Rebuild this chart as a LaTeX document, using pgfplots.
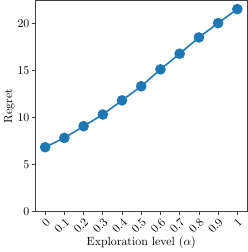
\documentclass[border=0pt]{standalone}
\usepackage{pgfplots}
\pgfplotsset{compat=1.18}
\definecolor{mplblue}{HTML}{1F77B4}
\definecolor{spine}{HTML}{404040}
\begin{document}
\begin{tikzpicture}
\begin{axis}[
  width=178pt, height=178pt, scale only axis,
  xmin=-0.05, xmax=1.05, ymin=0, ymax=22.5,
  xtick={0,0.1,0.2,0.3,0.4,0.5,0.6,0.7,0.8,0.9,1},
  xticklabels={0,0.1,0.2,0.3,0.4,0.5,0.6,0.7,0.8,0.9,1},
  ytick={0,5,10,15,20},
  x tick label style={rotate=45, anchor=north east, inner sep=1pt},
  y tick label style={inner sep=2pt},
  tick align=outside, tick pos=left,
  major tick length=3pt,
  axis line style={spine, line width=0.6pt},
  every tick/.style={spine, line width=0.6pt},
  xlabel={Exploration level ($\alpha$)},
  ylabel={Regret},
  xlabel style={yshift=3pt},
  ylabel style={yshift=-3pt},
]
\addplot[mplblue, line width=1.3pt, mark=*, mark size=3.8pt, mark options={fill=mplblue, draw=mplblue}]
coordinates {
(0,6.86) (0.1,7.86) (0.2,9.1) (0.3,10.35) (0.4,11.85) (0.5,13.35)
(0.6,15.15) (0.7,16.82) (0.8,18.55) (0.9,20.07) (1,21.57)
};
\end{axis}
\end{tikzpicture}
\end{document}
